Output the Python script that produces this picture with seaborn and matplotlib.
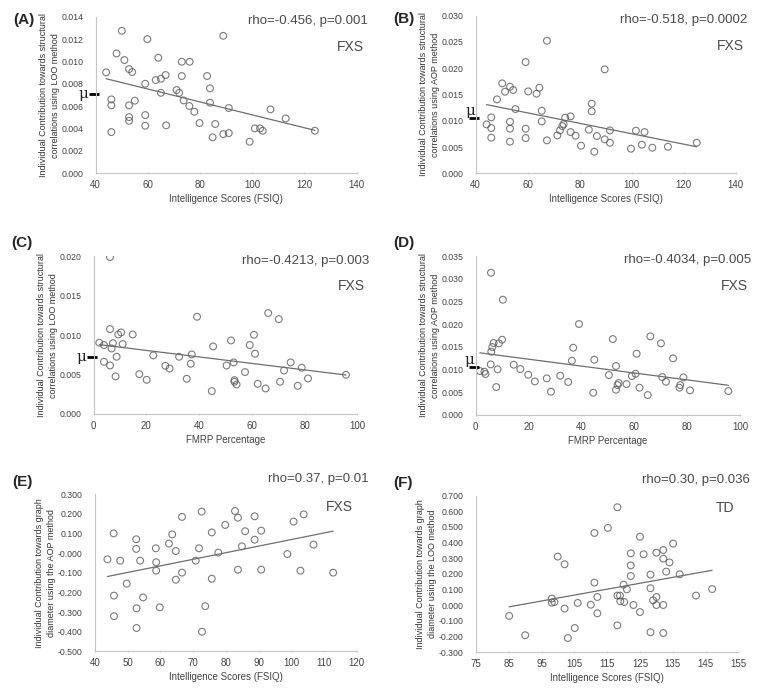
import numpy as np
import pandas as pd
import matplotlib
matplotlib.use("Agg")
import matplotlib.pyplot as plt
import matplotlib.transforms as mtransforms
from matplotlib.ticker import FormatStrFormatter
import seaborn as sns

# ---- data ----
# (A) FSIQ vs LOO contribution (structural)
a_iq = [44, 50, 48, 51, 52.8, 54, 59.8, 64, 59, 63, 65, 66.8, 73, 76, 73, 71, 72, 65,
        73.7, 75.9, 77.8, 79.8, 82.7, 83.8, 83.8, 88.9, 85.8, 84.8, 88.9, 91, 91, 99,
        101, 103, 104, 107, 112.8, 124, 46, 46, 46, 52.8, 52.8, 52.8, 55, 59, 59, 67]
a_val = [0.00903, 0.01275, 0.01072, 0.01013, 0.00932, 0.00906, 0.0120, 0.01034, 0.00801,
         0.00834, 0.00846, 0.00879, 0.00998, 0.00998, 0.0087, 0.00745, 0.0072, 0.0072,
         0.00652, 0.00602, 0.00551, 0.0045, 0.0087, 0.0076, 0.00632, 0.0123, 0.00441,
         0.00322, 0.00351, 0.0036, 0.00584, 0.00283, 0.00402, 0.00402, 0.00381, 0.00572,
         0.00491, 0.00381, 0.00661, 0.00608, 0.00369, 0.00608, 0.00503, 0.0047, 0.0065,
         0.00521, 0.00426, 0.00429]

# (B) FSIQ vs AOP contribution (structural)
b_iq = [44.2, 46, 46, 46, 48.2, 50.2, 51.3, 53.2, 54.4, 53.2, 53.2, 53.2, 55.3, 59.2,
        59.2, 59.2, 60.2, 63.4, 64.5, 65.4, 65.4, 67.4, 67.4, 71.4, 72.4, 73.3, 73.8,
        74.4, 76.5, 76.5, 78.4, 80.5, 83.5, 84.6, 84.6, 85.6, 86.6, 89.6, 89.6, 91.6,
        91.6, 99.7, 101.6, 103.9, 104.9, 107.9, 113.9, 125]
b_val = [0.00932, 0.01066, 0.00863, 0.00679, 0.01408, 0.01712, 0.01554, 0.01649, 0.01586,
         0.00983, 0.0085, 0.00603, 0.01224, 0.02118, 0.0085, 0.00672, 0.0156, 0.01516,
         0.0163, 0.01192, 0.00989, 0.02524, 0.00628, 0.00723, 0.00818, 0.009, 0.00939,
         0.01059, 0.01085, 0.00786, 0.00717, 0.00526, 0.00831, 0.01326, 0.0118, 0.00412,
         0.0071, 0.00647, 0.01979, 0.00818, 0.00583, 0.00469, 0.00812, 0.00545, 0.00786,
         0.00488, 0.00507, 0.00583]

# (C) FMRP vs LOO contribution
c_fmrp = [2.1, 3.9, 3.9, 6.2, 6.2, 6.2, 6.8, 7.3, 8.3, 8.7, 9.3, 10.4, 11, 14.8, 17.3,
          20.1, 22.6, 27.2, 28.8, 32.4, 35.3, 36.8, 37.2, 39.2, 44.8, 45.3, 50.4, 52.1,
          53.1, 53.4, 53.4, 54.2, 57.4, 59.2, 60.8, 61.2, 62.2, 65.2, 66.2, 70.2, 70.7,
          72.2, 74.7, 77.4, 78.9, 81.3, 95.7]
c_val = [0.00903, 0.00873, 0.00661, 0.01992, 0.01076, 0.00614, 0.0083, 0.00898, 0.00475,
         0.00725, 0.01008, 0.01034, 0.00886, 0.01008, 0.00504, 0.00432, 0.00742, 0.0061,
         0.00576, 0.00725, 0.00445, 0.00636, 0.00754, 0.01233, 0.00288, 0.00856, 0.00614,
         0.00932, 0.00653, 0.00428, 0.00407, 0.00373, 0.0053, 0.00873, 0.01004, 0.00763,
         0.00381, 0.00322, 0.0128, 0.01203, 0.00407, 0.00551, 0.00653, 0.00356, 0.00585,
         0.00449, 0.00496]

# (D) FMRP vs AOP contribution
d_fmrp = [1.6, 3.3, 3.7, 5.8, 5.7, 5.9, 6.3, 6.8, 7.8, 8.3, 8.8, 10, 10.3, 14.4, 16.9,
          19.9, 22.4, 26.9, 28.5, 32, 35, 36.4, 36.9, 39.1, 44.5, 44.9, 50.4, 51.9, 53.1,
          53.1, 53.7, 54.1, 57.1, 59.1, 60.5, 60.9, 62, 65.1, 66.1, 70.1, 70.6, 72, 74.7,
          77.1, 77.4, 78.6, 81.1, 95.6]
d_val = [0.00963, 0.00949, 0.00897, 0.03132, 0.0111, 0.0139, 0.01493, 0.01581, 0.0061,
         0.01, 0.01574, 0.01654, 0.02537, 0.01103, 0.01007, 0.00882, 0.00735, 0.00801,
         0.00507, 0.0086, 0.00721, 0.01191, 0.01478, 0.02, 0.00485, 0.01213, 0.00875,
         0.01669, 0.01074, 0.00551, 0.00654, 0.00699, 0.00676, 0.00853, 0.00904, 0.01346,
         0.00596, 0.00434, 0.01728, 0.01574, 0.00831, 0.00728, 0.01243, 0.00596, 0.00654,
         0.00824, 0.00537, 0.00522]

# (E) FSIQ vs AOP contribution (graph diameter)
e_iq = [43.8, 45.7, 45.8, 45.8, 47.7, 49.7, 52.6, 52.6, 52.7, 52.7, 53.8, 54.7, 58.6,
        58.7, 58.7, 59.8, 62.6, 63.6, 64.7, 64.7, 66.6, 66.6, 70.8, 71.8, 72.6, 72.7,
        73.7, 75.7, 75.7, 77.7, 79.8, 82.8, 83.7, 83.7, 84.9, 85.9, 88.8, 88.8, 90.8,
        90.8, 98.8, 100.7, 102.8, 103.8, 106.8, 112.8]
e_val = [-0.031, 0.101, -0.216, -0.321, -0.038, -0.155, 0.071, 0.022, -0.281, -0.381,
         -0.038, -0.225, 0.025, -0.046, -0.089, -0.276, 0.049, 0.096, 0.011, -0.135,
         0.185, -0.099, -0.038, 0.025, 0.212, -0.4, -0.27, 0.106, -0.13, 0.003, 0.144,
         0.215, 0.181, -0.084, 0.035, 0.112, 0.188, 0.069, 0.115, -0.084, -0.004, 0.161,
         -0.089, 0.198, 0.044, -0.099]

# (F) FSIQ vs LOO contribution (graph diameter), TD group
f_iq = [85.1, 90, 98.1, 98.1, 98.9, 99.9, 102, 102, 103, 105.1, 106, 110, 111.1, 111.1,
        112, 112, 115.2, 118.1, 118.1, 118.1, 118.9, 119, 120, 120.2, 121, 122.2, 122.2,
        122.2, 123, 125, 125, 126.1, 128.2, 128.2, 128.2, 129, 130, 130, 130, 132.1,
        132.1, 132.1, 132.1, 133, 134, 135.1, 137.1, 142.1, 147]
f_val = [-0.068, -0.191, 0.043, 0.017, 0.021, 0.311, 0.262, -0.021, -0.209, -0.145,
         0.015, 0.004, 0.462, 0.145, 0.053, -0.051, 0.494, 0.626, 0.062, -0.128, 0.062,
         0.026, 0.132, 0.021, 0.102, 0.332, 0.255, 0.187, 0.002, 0.438, -0.043, 0.326,
         0.196, 0.109, -0.172, 0.032, 0.336, 0.053, 0.002, 0.353, 0.298, 0.002, -0.177,
         0.215, 0.274, 0.394, 0.198, 0.062, 0.104]

sns.set_style("white")
plt.rcParams['font.family'] = ['Liberation Sans', 'DejaVu Sans']

GREY_TXT = "#4a4a4a"
SPINE = "#c4c4c4"
PT = "#5a5a5a"

ylab_loo = "Individual Contribution towards structural\ncorrelations using LOO method"
ylab_aop = "Individual Contribution towards structural\ncorrelations using AOP method"
xlab_iq = "Intelligence Scores (FSIQ)"
xlab_fmrp = "FMRP Percentage"

panels = [
    # label, x, y, xlabel, ylabel, xlim, xticks, ylim, yticks, stats, group, mu, mu style, pos
    ("(A)", a_iq, a_val, xlab_iq, ylab_loo, (40, 140), np.arange(40, 141, 20),
     (0, 0.014), np.arange(0, 0.0141, 0.002), "rho=-0.456, p=0.001", "FXS",
     0.00706, "left", [0.1254, 0.752, 0.342, 0.224]),
    ("(B)", b_iq, b_val, xlab_iq, ylab_aop, (40, 140), np.arange(40, 141, 20),
     (0, 0.030), np.arange(0, 0.0301, 0.005), "rho=-0.518, p=0.0002", "FXS",
     0.0105, "above", [0.6234, 0.752, 0.341, 0.2255]),
    ("(C)", c_fmrp, c_val, xlab_fmrp, ylab_loo, (0, 100), np.arange(0, 101, 20),
     (0, 0.020), np.arange(0, 0.0201, 0.005), "rho=-0.4213, p=0.003", "FXS",
     0.00725, "left", [0.1228, 0.408, 0.3455, 0.2252]),
    ("(D)", d_fmrp, d_val, xlab_fmrp, ylab_aop, (0, 100), np.arange(0, 101, 20),
     (0, 0.035), np.arange(0, 0.0351, 0.005), "rho=-0.4034, p=0.005", "FXS",
     0.01044, "above", [0.6234, 0.4067, 0.3464, 0.227]),
    ("(E)", e_iq, e_val, xlab_iq,
     "Individual Contribution towards graph\ndiameter using the AOP method",
     (40, 120), np.arange(40, 121, 10), (-0.5, 0.3), np.arange(-0.5, 0.301, 0.1),
     "rho=0.37, p=0.01", "FXS", None, None, [0.1245, 0.0682, 0.343, 0.2246]),
    ("(F)", f_iq, f_val, xlab_iq,
     "Individual Contribution towards graph\ndiameter using the LOO method",
     (75, 155), np.arange(75, 156, 10), (-0.3, 0.7), np.arange(-0.3, 0.701, 0.1),
     "rho=0.30, p=0.036", "TD", None, None, [0.6239, 0.0668, 0.3438, 0.2241]),
]

fig = plt.figure(figsize=(7.63, 6.99), dpi=100)

for (lab, xs, ys, xlab, ylab, xlim, xticks, ylim, yticks, stats, grp, mu,
     mu_style, pos) in panels:
    ax = fig.add_axes(pos)
    df = pd.DataFrame({"x": xs, "y": ys})
    sns.regplot(data=df, x="x", y="y", ax=ax, ci=None,
                scatter_kws=dict(s=24, facecolors="none", edgecolors=PT,
                                 linewidths=0.8),
                line_kws=dict(color="#6e6e6e", lw=0.9))
    ax.set_xlim(*xlim)
    ax.set_ylim(*ylim)
    ax.set_xticks(xticks)
    ax.set_yticks(yticks)
    ax.yaxis.set_major_formatter(FormatStrFormatter('%.3f'))
    ax.tick_params(axis="x", labelsize=7, color=SPINE, labelcolor="#444444",
                   length=2, width=0.7, direction="inout", pad=4, bottom=True)
    ax.tick_params(axis="y", labelsize=6.3, labelcolor="#444444", length=0,
                   pad=9, left=True)
    for s in ["top", "right"]:
        ax.spines[s].set_visible(False)
    for s in ["left", "bottom"]:
        ax.spines[s].set_color(SPINE)
        ax.spines[s].set_linewidth(0.8)
    ax.set_xlabel(xlab, fontsize=7, color="#444444", labelpad=3)
    ax.set_ylabel(ylab, fontsize=6.5, color="#333333", labelpad=1,
                  linespacing=1.45)

    # panel letter, stats and group text
    bb = ax.get_position()
    if lab in ("(E)", "(F)"):
        fig.text(bb.x0 - 0.108, bb.y1 + 0.008, lab, fontsize=11, fontweight="bold",
                 ha="left", va="bottom")
        fig.text(bb.x1 + 0.015, bb.y1 + 0.022, stats, fontsize=9.5, color=GREY_TXT,
                 ha="right", va="center")
        fig.text(bb.x1 - 0.005, bb.y1 - 0.018, grp, fontsize=10, color=GREY_TXT,
                 ha="right", va="center")
    else:
        top_off = 0.0 if lab in ("(A)", "(B)") else 0.0236
        fig.text(bb.x0 - 0.108, bb.y1 - 0.005 + top_off, lab, fontsize=11,
                 fontweight="bold", ha="left", va="center")
        fig.text(bb.x1 + 0.015, bb.y1 - 0.006, stats, fontsize=9.5, color=GREY_TXT,
                 ha="right", va="center")
        fig.text(bb.x1 + 0.010, bb.y1 - 0.043, grp, fontsize=10, color=GREY_TXT,
                 ha="right", va="center")

    # mean marker
    if mu is not None:
        tr = mtransforms.blended_transform_factory(ax.transAxes, ax.transData)
        ax.plot([-0.024, 0.012], [mu, mu], color="black", lw=2, transform=tr,
                clip_on=False, solid_capstyle="butt")
        if mu_style == "left":
            ax.text(-0.047, mu, "μ", transform=tr, ha="center", va="center",
                    fontsize=11, family="DejaVu Serif", color="#222222")
        else:
            ax.text(-0.022, mu, "μ", transform=tr, ha="center", va="bottom",
                    fontsize=11, family="DejaVu Serif", color="#222222")

fig.savefig("out.png", dpi=100)
